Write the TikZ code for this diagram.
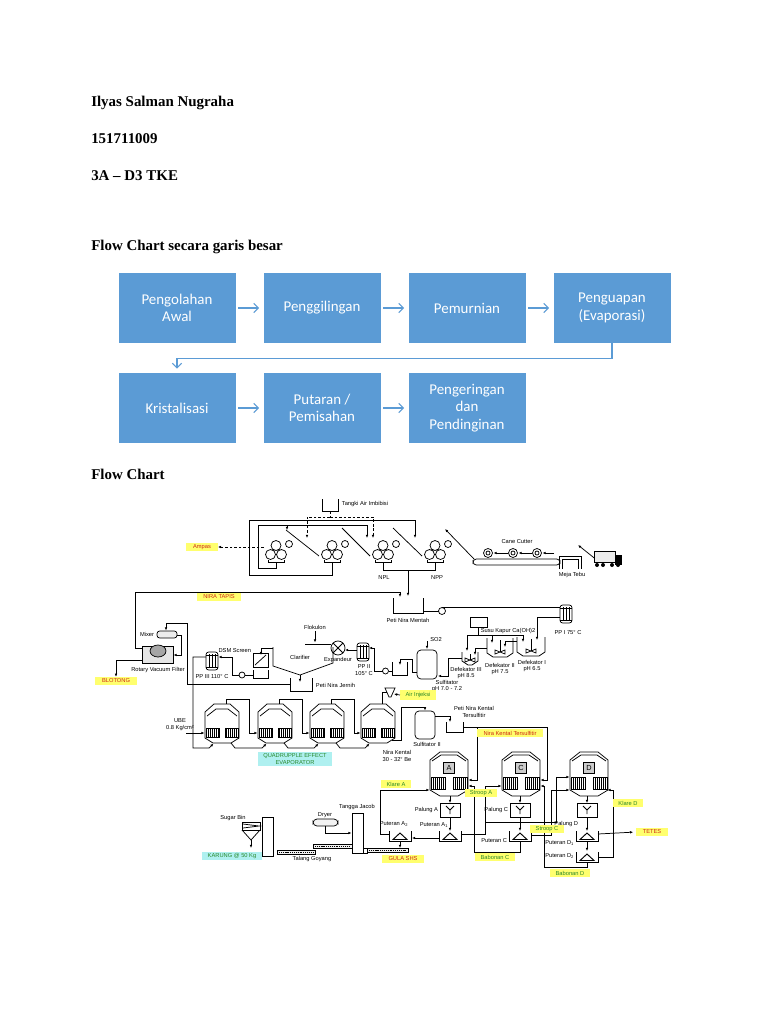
\documentclass[tikz,border=0pt]{standalone}
\usepackage{fontspec}
\usetikzlibrary{arrows.meta}
\newfontfamily\tnrfont{Liberation Serif}
\newfontfamily\cblfont{Carlito}
\newfontfamily\arlfont{Liberation Sans}
\definecolor{kotakbiru}{RGB}{91,155,213}
\definecolor{tagkuning}{RGB}{255,255,110}
\definecolor{tagcyan}{RGB}{175,240,240}
\definecolor{teksmerah}{RGB}{205,40,20}
\definecolor{tekshijau}{RGB}{40,135,40}
\tikzset{
  judul/.style={anchor=base west, inner sep=0pt, font=\tnrfont\bfseries\fontsize{11.2}{13}\selectfont},
  kotak/.style={rectangle, fill=kotakbiru, minimum width=87.75pt, minimum height=52.5pt, inner sep=2pt, text=white, align=center, font=\cblfont\fontsize{11.2}{13}\selectfont},
  panah/.style={draw=kotakbiru, line width=0.8pt, -{Straight Barb[length=3.5pt,width=7pt]}, shorten <=2pt, shorten >=3pt},
  pipa/.style={draw=black, line width=0.55pt},
  alir/.style={pipa, -{Latex[length=2.4pt,width=2pt]}},
  putus/.style={dash pattern=on 2pt off 1.4pt},
  tag/.style={font=\arlfont\fontsize{4.3}{5.1}\selectfont, inner sep=0.5pt, align=center},
  tagm/.style={tag, fill=tagkuning, text=teksmerah, inner xsep=5pt, inner ysep=1.4pt},
  tagh/.style={tag, fill=tagkuning, text=tekshijau, inner xsep=4pt, inner ysep=1.4pt},
  tagc/.style={tag, fill=tagcyan, text=tekshijau, inner xsep=4pt, inner ysep=1.3pt},
}
\newcommand{\pemanas}[2]{%
  \draw[pipa, rounded corners=2, fill=white] (#1-6,#2-9) rectangle (#1+6,#2+9);
  \foreach \t in {-3,0,3} {\draw[line width=0.3pt] (#1+\t,#2-7) -- (#1+\t,#2+7);}
  \draw[line width=0.3pt] (#1-6,#2-6) -- (#1+6,#2-6) (#1-6,#2+6) -- (#1+6,#2+6);
}
\newcommand{\defekator}[4]{% kiri, kanan, atas, bawah
  \draw[pipa] (#1,#3) -- (#1,#4-4) -- (#1+6,#4) -- (#2-6,#4) -- (#2,#4-4) -- (#2,#3);
  \draw[pipa] ({(#1+#2)/2},#3+2) -- ({(#1+#2)/2},#4-5);
  \draw[pipa] ({(#1+#2)/2-5},#4-7) -- ({(#1+#2)/2+5},#4-3) -- ({(#1+#2)/2+5},#4-7) -- ({(#1+#2)/2-5},#4-3) -- cycle;
}
\newcommand{\putaran}[2]{%
  \draw[pipa] (#1-11,#2-5) -- (#1-11,#2+5) -- (#1+11,#2+5) -- (#1+11,#2-5);
  \draw[pipa, line width=0.7pt] (#1-7,#2+3.5) -- (#1,#2-3) -- (#1+7,#2+3.5) -- cycle;
}
\begin{document}
\begin{tikzpicture}[x=0.75pt,y=0.75pt,yscale=-1,xscale=1]
\useasboundingbox (0,0) rectangle (768,1024);
\fill[white] (0,0) rectangle (768,1024);

% Text Node
\node[judul] (nama) at (91,106) {Ilyas Salman Nugraha};
\node[judul] (nim) at (91,143) {151711009};
\node[judul] (kelas) at (91,180) {3A – D3 TKE};
\node[judul] (judulsatu) at (91,250) {Flow Chart secara garis besar};
\node[judul] (juduldua) at (91,479) {Flow Chart};

%Flow chart garis besar
\node[kotak] (awal) at (177,308) {Pengolahan\\Awal};
\node[kotak] (giling) at (322,308) {Penggilingan};
\node[kotak] (murni) at (467,308) {Pemurnian};
\node[kotak] (uap) at (612,308) {Penguapan\\(Evaporasi)};
\node[kotak] (kristal) at (177,408) {Kristalisasi};
\node[kotak] (putar) at (322,408) {Putaran /\\Pemisahan};
\node[kotak] (kering) at (467,408) {Pengeringan\\dan\\Pendinginan};
\draw[panah] (awal) -- (giling);
\draw[panah] (giling) -- (murni);
\draw[panah] (murni) -- (uap);
\draw[panah, shorten <=0pt] (uap.south) -- ++(0,15) -| (kristal.north);
\draw[panah] (kristal) -- (putar);
\draw[panah] (putar) -- (kering);

%----- stasiun gilingan -----
\draw[pipa] (322,499) -- (322,511) -- (338,511) -- (338,499);
\node[tag, anchor=west] (imbibisi) at (341,504) {Tangki Air Imbibisi};
\draw[pipa, putus] (330,511) -- (330,517);
\draw[alir, putus] (330,517) -| (307,538);
\draw[alir, putus] (330,517) -| (373,538);
\foreach \gx in {276,332,383,435}{
  \draw[pipa] (\gx,545.5) circle (5) (\gx-5.5,554.5) circle (5) (\gx+5.5,554.5) circle (5) (\gx+13,544) circle (3.5);
  \draw[pipa] (\gx-8,560) -- (\gx-8,562) -- (\gx+8,562) -- (\gx+8,560) (\gx,562) -- (\gx,565);
}
\draw[pipa] (319,556) -- (286,530);
\draw[pipa] (370,556) -- (342,528);
\draw[pipa] (422,556) -- (393,528);
\draw[alir] (474,559) -- (445,529);
\draw[alir] (332,565) -- (332,575) -- (249,575) -- (249,520) -- (415,520) -- (415,538);
\draw[alir] (276,565) -- (276,568) -- (258,568) -- (258,525) -- (367,525) -- (367,538);
\draw[alir] (287,525) -- (287,530);
\node[tagm] (ampas) at (202,547) {Ampas};
\draw[alir, putus] (264,547) -- (ampas.east);
\draw[pipa] (383,565) -- (383,570) -- (408,570);
\draw[alir] (435,565) -- (435,570) -- (408,570) -- (408,596);
\node[tag] (npl) at (384,578) {NPL};
\node[tag] (npp) at (437,578) {NPP};

%Cane cutter, meja tebu, truk
\node[tag] (cutter) at (517,542) {Cane Cutter};
\draw[pipa, rounded corners=2.5] (473,559) rectangle (560,565);
\foreach \cx in {488,513,537}{
  \draw[pipa] (\cx,553) circle (4.5);
  \draw[pipa] (\cx,553) circle (2);
}
\draw[alir] (554,553) -- (542.5,553);
\draw[alir] (531.5,553) -- (518.5,553);
\draw[alir] (507.5,553) -- (493.5,553);
\draw[pipa] (559,569) -- (559,556) -- (581,556) -- (581,569);
\draw[pipa] (562,569) -- (562,559) -- (578,559) -- (578,569);
\node[tag] (meja) at (572,575) {Meja Tebu};
\draw[alir] (598,561) -- (578,545);
\draw[pipa, fill=gray!15] (594,551) rectangle (615,562);
\draw[pipa, fill=black] (615,555) rectangle (621,564);
\fill (597,565) circle (2) (603,565) circle (2) (612,565) circle (2) (618,565) circle (2);

%----- stasiun pemurnian -----
\draw[alir] (142,648) -- (135,648) -- (135,592) -- (400,592) -- (400,597);
\node[tagm] (tapis) at (219,597) {NIRA TAPIS};
\draw[pipa] (393,598) -- (393,613) -- (423,613) -- (423,598);
\node[tag] (mentah) at (408,620) {Peti Nira Mentah};
\draw[pipa] (423,611) -- (438.5,611);
\draw[pipa] (442,611) circle (3.5);
\draw[pipa] (442,607.5) -- (560,607.5);
\pemanas{566}{614}
\node[tag] (ppsatu) at (568,633) {PP I 75° C};
\draw[alir] (560,617) -- (537,617) -- (537,640);

\draw[pipa] (470,617) rectangle (487,627);
\node[tag] (kapur) at (508,631) {Susu Kapur Ca(OH)2};
\draw[pipa] (478,627) -- (478,635);
\draw[pipa] (467,635) -- (523,635);
\draw[alir] (467,635) -- (467,651);
\draw[alir] (492,635) -- (492,643);
\draw[alir] (523,635) -- (523,642);
\defekator{517}{545}{637}{656}
\defekator{487}{513}{638}{657}
\defekator{462}{478}{652}{665}
\node[tag] (defsatu) at (532,666) {Defekator I\\pH 6.5};
\node[tag] (defdua) at (500,669) {Defekator II\\pH 7.5};
\node[tag] (deftiga) at (466,673) {Defekator III\\pH 8.5};
\draw[alir] (517,641) -- (505,641) -- (505,647);
\draw[alir] (487,648) -- (475,648) -- (475,655);
\draw[alir] (462,658) -- (448,658) -- (448,676) -- (438,676);

\draw[pipa, rounded corners=3] (417,650) rectangle (437,679);
\node[tag] (sodua) at (436,640) {SO2};
\draw[alir] (427,641) -- (427,649);
\node[tag] (sulfitator) at (447,686) {Sulfitator\\pH 7.0 - 7.2};
\draw[alir] (417,672) -- (412,672) -- (412,659) -- (400,659) -- (400,665);
\draw[pipa] (392,662) -- (392,675) -- (407,675) -- (407,662);
\draw[pipa] (392,671) -- (388.5,671);
\draw[pipa] (385.5,671) circle (3);
\draw[alir] (382.5,671) -- (374,671) -- (374,648) -- (369,648);
\pemanas{363}{652}
\node[tag] (ppdua) at (364,670) {PP II\\105° C};
\draw[alir] (357,650) -- (345,650);
\draw[pipa] (338,648) circle (7);
\draw[pipa] (333,643) -- (343,653) (333,653) -- (343,643);
\node[tag] (expandeur) at (338,660) {Expandeur};
\node[tag] (flokulon) at (315,627) {Flokulon};
\draw[alir] (315,631) -- (315,642.5);
\draw[pipa] (331,644) -- (305,644);
\draw[pipa] (273,647) -- (273,666) -- (300,675) -- (333,663) -- (333,647);
\node[tag] (clarifier) at (300,657) {Clarifier};
\draw[alir] (300,675) -- (300,682);
\draw[pipa] (290,678) -- (290,691) -- (312,691) -- (312,678);
\node[tag, anchor=west] (jernih) at (315,685) {Peti Nira Jernih};

\draw[alir] (273,648) -- (261,648) -- (261,655);
\draw[pipa] (253,653) rectangle (268,667);
\draw[pipa] (255,665) -- (266,655);
\node[tag, anchor=east] (dsm) at (252,651) {DSM Screen};
\draw[pipa] (253,670) -- (253,678) -- (268,678) -- (268,670);
\draw[pipa] (253,675) -- (245,675);
\draw[pipa] (242,675) circle (3);
\draw[alir] (239,675) -- (232,675) -- (232,657) -- (218.5,657);
\pemanas{212}{661}
\node[tag] (pptiga) at (212,677) {PP III 110° C};

\draw[alir] (290,684) -- (187,684) -- (187,623) -- (166,623) -- (166,630.5);
\draw[pipa, rounded corners=2, fill=gray!15] (157,631) rectangle (177,638);
\node[tag, anchor=east] (mixer) at (155,634) {Mixer};
\draw[alir] (177,635) -- (181,635) -- (181,655) -- (173.5,655);
\draw[pipa, fill=gray!20] (142,646) rectangle (173,663);
\draw[pipa, fill=gray!70] (158,651) ellipse (8 and 6);
\node[tag] (rvf) at (158,670) {Rotary Vacuum Filter};
\node[tagm] (blotong) at (116,681) {BLOTONG};
\draw[alir] (142,660) -| (blotong.north);

%----- stasiun penguapan -----
\draw[alir] (206,657) -- (193,657) -- (193,748) -- (209,748) -- (213.5,743.6);
\node[tag] (ube) at (180,725) {UBE\\0.8 Kg/cm²};
\draw[alir] (186,733) -- (204.5,733);
\foreach \ex in {222,275,327,378}{
  \draw[pipa] (\ex-17,738) -- (\ex-17,712) -- (\ex-8,704) -- (\ex+8,704) -- (\ex+17,712) -- (\ex+17,738) -- (\ex+9,743) -- (\ex-9,743) -- cycle;
  \draw[pipa] (\ex-15,716) -- (\ex-6,709) -- (\ex+6,709) -- (\ex+15,716);
  \draw[pipa] (\ex-16,728) rectangle (\ex-3,737) (\ex+3,728) rectangle (\ex+16,737);
  \foreach \h in {-14,-12,...,-4,4,6,...,14} {\draw[line width=0.3pt] (\ex+\h,728) -- (\ex+\h,737);}
}
\foreach \ea/\eb in {222/275,275/327,327/378}{
  \draw[alir] (\ea+4,704) -- (\ea+4,699) -- (\ea+27,699) -- (\ea+27,733) -- (\eb-17.5,733);
  \draw[alir] (\ea+9,743) -- (\ea+13,748) -- (\eb-13,748) -- (\eb-8.5,743.6);
}
\node[tagc] (quadruple) at (295,759) {QUADRUPPLE EFFECT\\EVAPORATOR};
\node[tag] (kental) at (397,756) {Nira Kental\\30 - 32° Be};
\draw[pipa] (385,688) -- (395,688) -- (391,697) -- (389,697) -- cycle;
\draw[pipa] (382,704) -- (382,692) -- (386.5,692);
\node[tagh] (injeksi) at (418,695) {Air Injeksi};
\draw[alir] (injeksi.west) -- (394,694);

\draw[alir] (392,740) -- (401,740) -- (401,707) -- (425,707) -- (425,710.5);
\draw[pipa, rounded corners=3] (415,711) rectangle (435,739);
\node[tag] (sulfdua) at (427,744) {Sulfitator II};
\draw[alir] (435,716) -- (450,716) -- (450,722);
\draw[pipa] (446,722) -- (446,732) -- (463,732) -- (463,722);
\node[tag] (petikental) at (474,712) {Peti Nira Kental\\Tersulfitir};
\draw[pipa] (463,727) -- (547,727);
\draw[alir] (477,727) -- (477,780) -- (468.5,780);
\draw[alir] (547,727) -- (547,780) -- (540.5,780);
\node[tagm] (tersulfitir) at (510,733) {Nira Kental Tersulfitir};

%----- stasiun masakan & puteran -----
\foreach \px/\pl in {449/A,521/C,589/D}{
  \draw[pipa, fill=white] (\px-19,790) -- (\px-19,760) -- (\px-9,752) -- (\px+9,752) -- (\px+19,760) -- (\px+19,790) -- (\px+9,796) -- (\px-9,796) -- cycle;
  \draw[pipa] (\px-17,761) -- (\px-8,755) -- (\px+8,755) -- (\px+17,761);
  \node[pipa, fill=gray!40, minimum size=8pt, inner sep=0pt, font=\arlfont\fontsize{5.5}{6}\selectfont] (pan\pl) at (\px,768) {\pl};
  \draw[pipa] (\px-18,777) rectangle (\px-4,789) (\px+4,777) rectangle (\px+18,789);
  \foreach \h in {-16,-14,...,-6,6,8,...,16} {\draw[line width=0.3pt] (\px+\h,777) -- (\px+\h,789);}
}
\foreach \qx in {450,520,587}{
  \draw[alir] (\qx,796) -- (\qx,803);
  \draw[pipa] (\qx-10,803) rectangle (\qx+10,817);
  \draw[pipa, line width=0.7pt] (\qx-4,806) -- (\qx,810) -- (\qx+4,806) (\qx,810) -- (\qx,814);
  \draw[alir] (\qx,817) -- (\qx,831);
}
\putaran{450}{836}
\putaran{400}{836}
\putaran{520}{836}
\putaran{587}{836}
\putaran{587}{857}
\node[tag, anchor=east] (palunga) at (439,810) {Palung A};
\node[tag, anchor=east] (palungc) at (509,810) {Palung C};
\node[tag, anchor=east] (palungd) at (579,824) {Palung D};
\node[tag] (puterana2) at (394,824) {Puteran A\textsubscript{2}};
\node[tag] (puterana1) at (434,825) {Puteran A\textsubscript{1}};
\node[tag, anchor=east] (puteranc) at (508,841) {Puteran C};
\node[tag, anchor=east] (puterand1) at (575,843) {Puteran D\textsubscript{1}};
\node[tag, anchor=east] (puterand2) at (575,856) {Puteran D\textsubscript{2}};

\draw[alir] (389,834) -- (380,834) -- (380,790) -- (429.5,790);
\draw[alir] (439,838) -- (412,838);
\draw[alir] (461,834) -- (485,834) -- (485,786) -- (501.5,786);
\draw[alir] (485,822) -- (556,822) -- (556,777) -- (569.5,777);
\draw[alir] (520,841) -- (520,852) -- (474,852) -- (474,786) -- (468.5,786);
\draw[alir] (531,835) -- (551,835) -- (551,790) -- (569.5,790);
\draw[alir] (587,862) -- (587,867) -- (544,867) -- (544,786) -- (540.5,786);
\draw[alir] (598,857) -- (613,857) -- (613,790) -- (607.5,790);
\draw[alir] (587,841) -- (587,851);
\draw[alir] (400,841) -- (400,848);
\node[tagh] (klarea) at (396,784) {Klare A};
\node[tagh] (stroopa) at (481,793) {Stroop A};
\node[tagh] (stroopc) at (547,829) {Stroop C};
\node[tagh] (babonanc) at (495,857) {Babonan C};
\node[tagh] (babonand) at (570,873) {Babonan D};
\node[tagh] (klared) at (628,803) {Klare D};
\node[tagm] (tetes) at (652,832) {TETES};
\draw[alir, shorten >=2pt] (598,834) -- (tetes.west);
\node[tagm] (shs) at (403,859) {GULA SHS};

%----- pengeringan & pengemasan -----
\draw[pipa, fill=gray!10] (367,848) rectangle (408,852);
\draw[line width=0.3pt, dash pattern=on 0.8pt off 0.6pt] (369,850) -- (406,850);
\draw[pipa, fill=gray!10] (313,844) rectangle (352,848);
\draw[line width=0.3pt, dash pattern=on 0.8pt off 0.6pt] (315,846) -- (350,846);
\draw[pipa, fill=gray!10] (277,850) rectangle (315,854);
\draw[line width=0.3pt, dash pattern=on 0.8pt off 0.6pt] (279,852) -- (313,852);
\draw[pipa] (352,813) rectangle (363,853);
\draw[pipa] (363,848) rectangle (367,853);
\node[tag] (jacob) at (357,807) {Tangga Jacob};
\draw[pipa, rounded corners=3, fill=gray!10] (313,819) rectangle (338,826);
\node[tag] (dryer) at (325,815) {Dryer};
\draw[alir] (325,826) -- (325,833) -- (351.5,833);
\node[tag] (talang) at (312,859) {Talang Goyang};
\node[tag] (sugarbin) at (233,818) {Sugar Bin};
\draw[pipa] (242,822) rectangle (260,830);
\draw[pipa] (243,824) -- (259,826) -- (243,828);
\draw[pipa] (242,830) -- (251,840) -- (260,830);
\draw[alir] (251,840) -- (251,848);
\draw[pipa] (262,817) rectangle (273,856);
\node[tagc] (karung) at (232,856) {KARUNG @ 50 Kg};

\end{tikzpicture}
\end{document}
